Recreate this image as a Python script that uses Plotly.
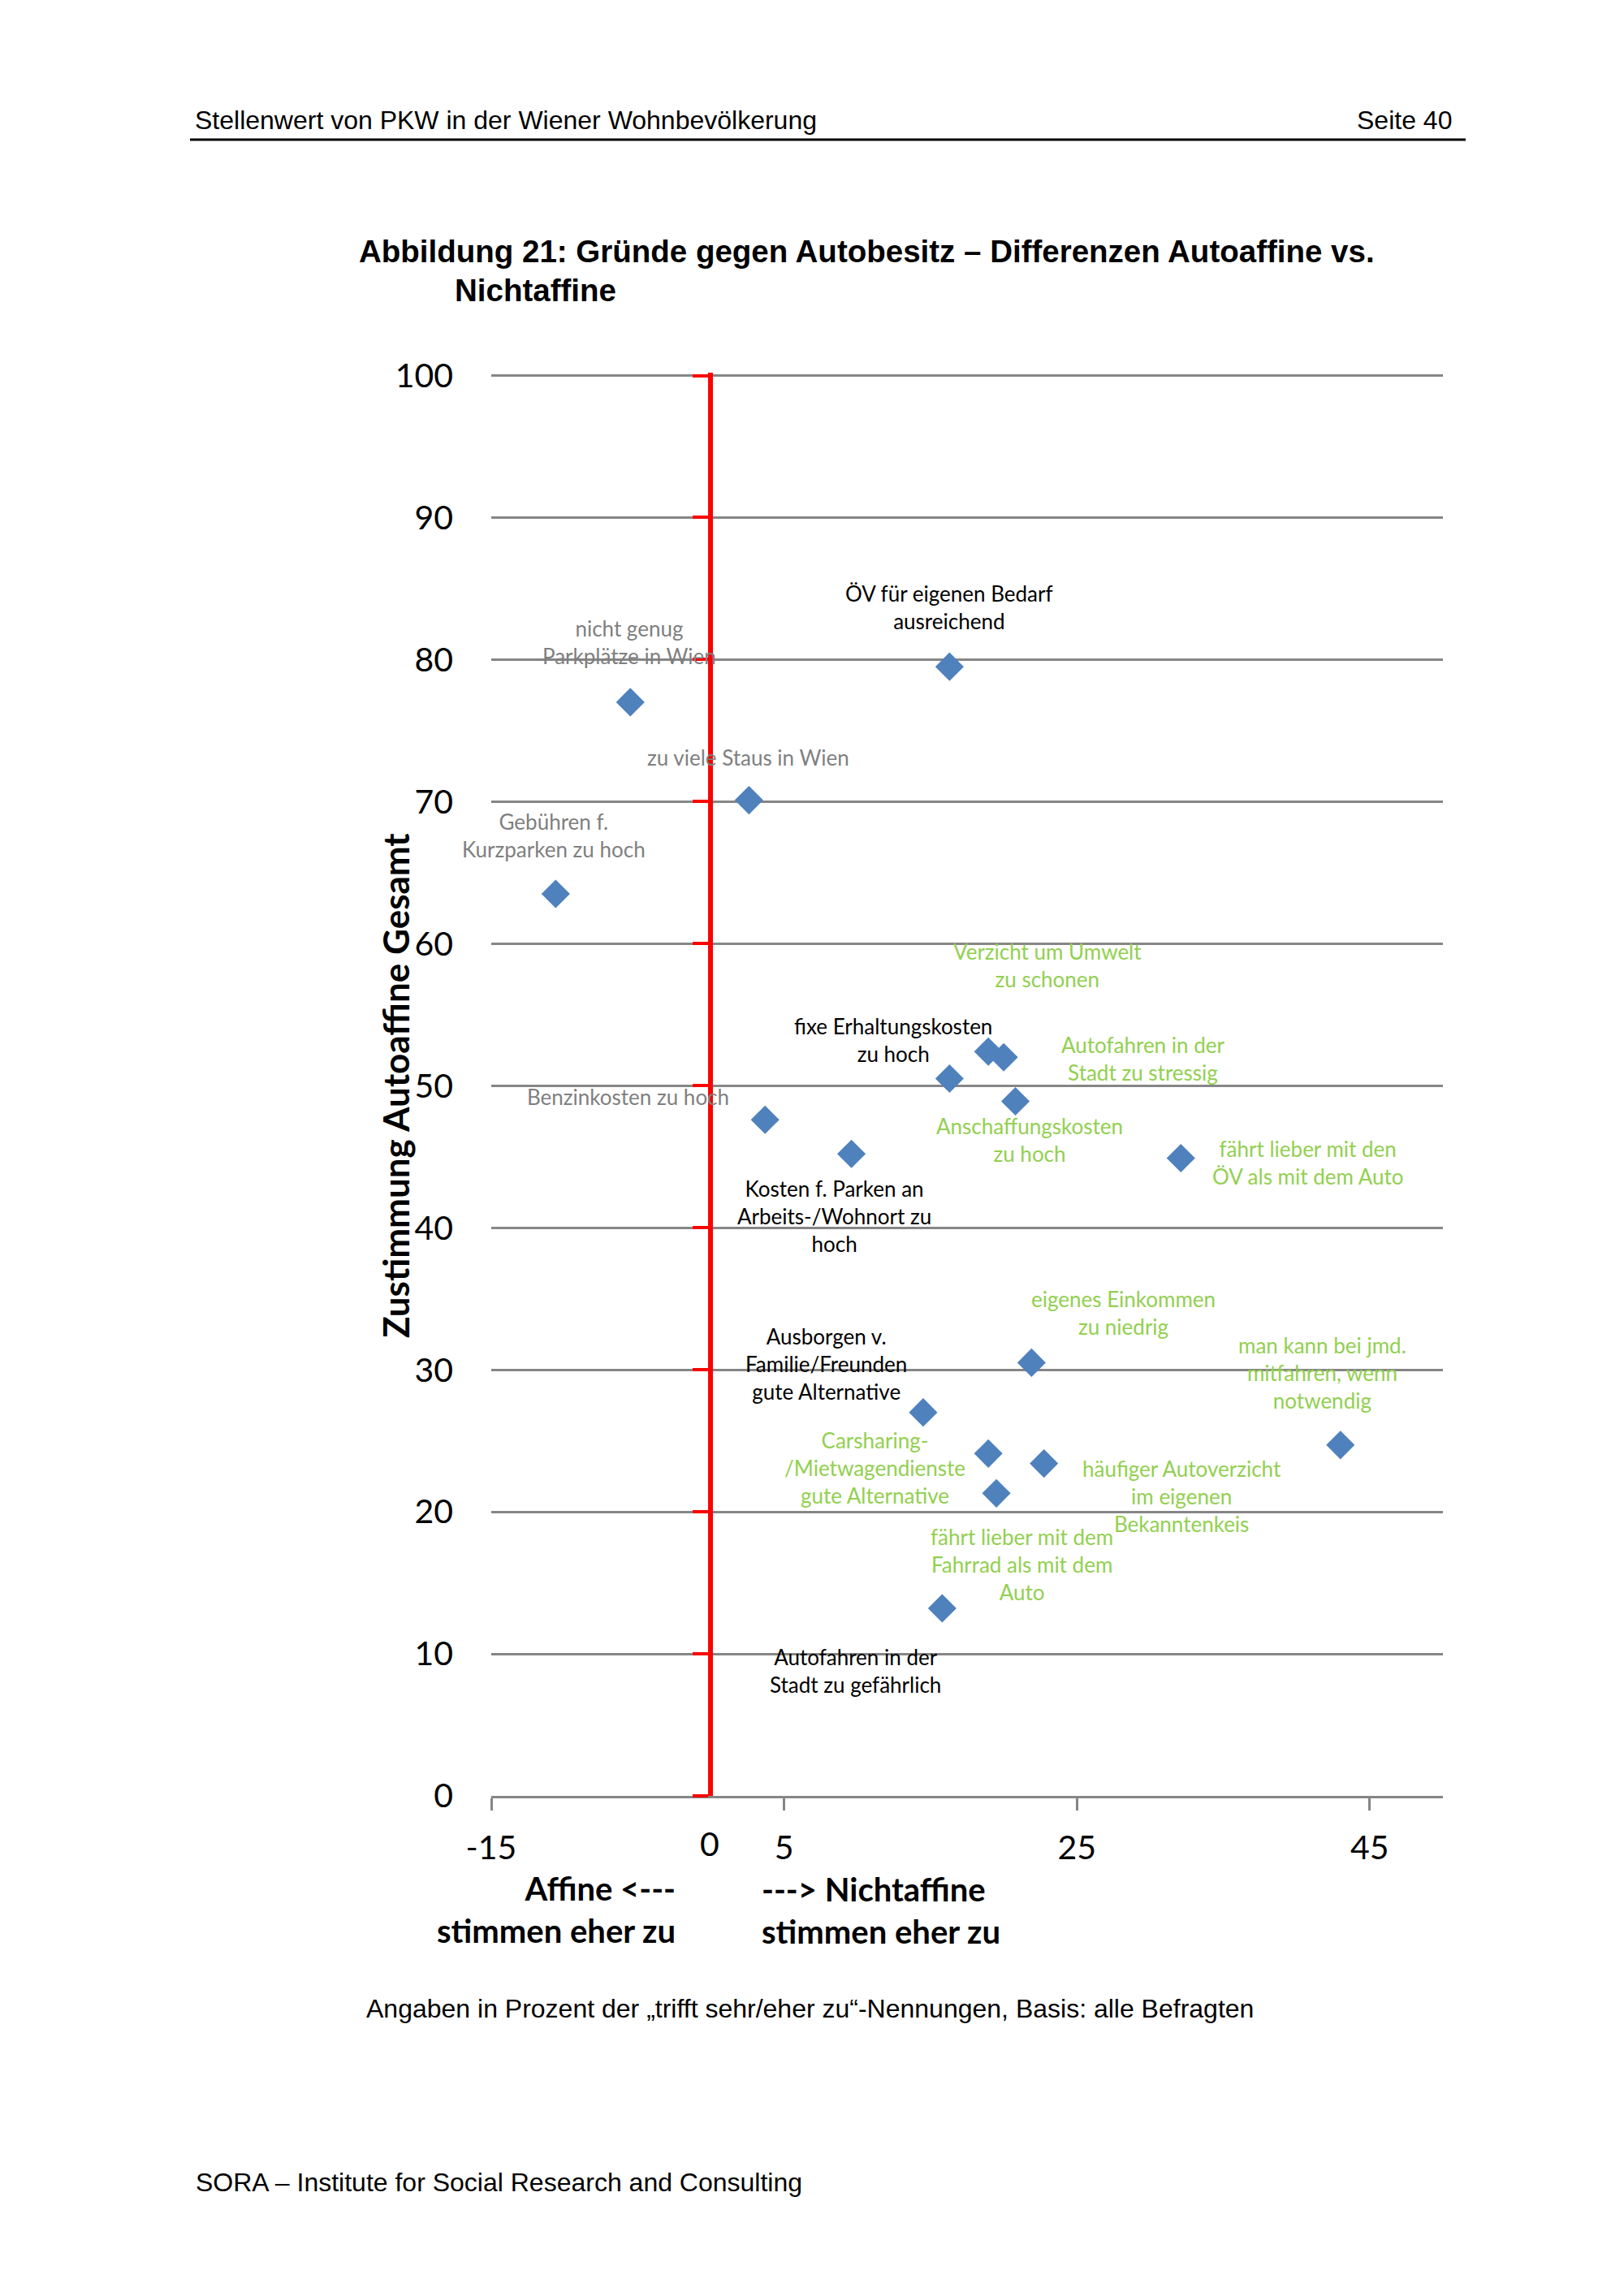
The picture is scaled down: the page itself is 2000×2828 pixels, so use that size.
import plotly.graph_objects as go

# Gründe gegen Autobesitz: Differenz Nichtaffine - Affine (x) vs. Zustimmung Autoaffine gesamt (y)
reasons = [
    "nicht genug\nParkplätze in Wien",
    "ÖV für eigenen Bedarf\nausreichend",
    "zu viele Staus in Wien",
    "Gebühren f.\nKurzparken zu hoch",
    "Verzicht um Umwelt\nzu schonen",
    "Autofahren in der\nStadt zu stressig",
    "fixe Erhaltungskosten\nzu hoch",
    "Anschaffungskosten\nzu hoch",
    "Benzinkosten zu hoch",
    "Kosten f. Parken an\nArbeits-/Wohnort zu\nhoch",
    "fährt lieber mit den\nÖV als mit dem Auto",
    "eigenes Einkommen\nzu niedrig",
    "Ausborgen v.\nFamilie/Freunden\ngute Alternative",
    "man kann bei jmd.\nmitfahren, wenn\nnotwendig",
    "Carsharing-\n/Mietwagendienste\ngute Alternative",
    "häufiger Autoverzicht\nim eigenen\nBekanntenkeis",
    "fährt lieber mit dem\nFahrrad als mit dem\nAuto",
    "Autofahren in der\nStadt zu gefährlich",
]
differenz = [-5.5, 16.3, 2.6, -10.6, 18.95, 20.0, 16.3, 20.8, 3.7, 9.6,
             32.1, 21.9, 14.5, 43.0, 18.95, 22.75, 19.5, 15.8]
zustimmung = [77.0, 79.5, 70.1, 63.5, 52.4, 52.0, 50.5, 48.9, 47.6, 45.2,
              44.9, 30.5, 27.0, 24.7, 24.1, 23.4, 21.3, 13.2]
gruppe = ["grau", "schwarz", "grau", "grau", "gruen", "gruen", "schwarz", "gruen", "grau", "schwarz",
          "gruen", "gruen", "schwarz", "gruen", "gruen", "gruen", "gruen", "schwarz"]

# where each data label sits (data units)
label_x = [-5.58, 16.28, 2.58, -10.73, 23.0, 29.48, 12.47, 21.77, -5.68, 8.41,
           40.76, 28.15, 7.87, 41.75, 11.23, 32.15, 21.22, 9.9]
label_y = [81.2, 83.7, 73.1, 67.6, 58.5, 51.9, 53.2, 46.2, 49.2, 40.8,
           44.6, 34.0, 30.4, 29.8, 23.1, 21.1, 16.3, 8.8]

x_ticks = [-15, 5, 25, 45]
x_ticktext = ["-15", "5", "25", "45"]
y_ticks = list(range(0, 101, 10))

label_colors = {"grau": "#7F7F7F", "schwarz": "#000000", "gruen": "#92D050"}

# page is drawn with the browser's 8px body margin, so work in page pixels minus that
OFF = 8
W, H = 2000 - 2 * OFF, 2828 - 2 * OFF
L, T = 605 - OFF, 459 - OFF
R = W - (1777 - OFF)
B = H - (2212 - OFF)
PW, PH = W - L - R, H - T - B
Y_TOP = 100.2  # small headroom so plotly keeps the gridline at 100


def px(x):
    return (x - OFF - L) / PW


def py(y):
    return (H - B - (y - OFF)) / PH


fig = go.Figure()
fig.add_trace(go.Scatter(
    x=differenz, y=zustimmung, mode="markers",
    marker=dict(symbol="diamond", size=27, color="#4F81BD"),
    text=[r.replace("\n", " ") for r in reasons], hoverinfo="text",
    showlegend=False,
))
# empty trace so the red axis at x=0 gets drawn
fig.add_trace(go.Scatter(x=[None], y=[None], yaxis="y2", showlegend=False, hoverinfo="skip"))

chart_font = "Lato, Calibri, sans-serif"
page_font = "Liberation Sans, Arial, sans-serif"

annotations = []
for txt, lx, ly, g in zip(reasons, label_x, label_y, gruppe):
    annotations.append(dict(
        x=lx, y=ly, xref="x", yref="y", text=txt.replace("\n", "<br>"),
        showarrow=False, xanchor="center", yanchor="middle", align="center",
        font=dict(family=chart_font, size=26, color=label_colors[g]),
    ))

annotations += [
    dict(x=px(874), y=py(2270), xref="paper", yref="paper", text="0", showarrow=False,
         xanchor="center", yanchor="middle", font=dict(family=chart_font, size=41, color="black")),
    dict(x=px(487), y=py(1337), xref="paper", yref="paper", textangle=-90,
         text="<b>Zustimmung Autoaffine Gesamt</b>", showarrow=False,
         xanchor="center", yanchor="middle",
         font=dict(family=chart_font, size=44, color="black")),
    dict(x=px(834), y=py(2352), xref="paper", yref="paper",
         text="<b>Affine <---</b><br><b>stimmen eher zu</b>", showarrow=False,
         xanchor="right", yanchor="middle", align="right",
         font=dict(family=chart_font, size=40, color="black")),
    dict(x=px(936), y=py(2353), xref="paper", yref="paper",
         text="<b>---> Nichtaffine</b><br><b>stimmen eher zu</b>", showarrow=False,
         xanchor="left", yanchor="middle", align="left",
         font=dict(family=chart_font, size=40, color="black")),
    dict(x=px(238), y=py(148), xref="paper", yref="paper",
         text="Stellenwert von PKW in der Wiener Wohnbevölkerung", showarrow=False,
         xanchor="left", yanchor="middle", font=dict(family=page_font, size=32, color="black")),
    dict(x=px(1790), y=py(148), xref="paper", yref="paper", text="Seite 40", showarrow=False,
         xanchor="right", yanchor="middle", font=dict(family=page_font, size=32, color="black")),
    dict(x=px(440), y=py(310), xref="paper", yref="paper",
         text="<b>Abbildung 21: Gründe gegen Autobesitz – Differenzen Autoaffine vs.</b>",
         showarrow=False, xanchor="left", yanchor="middle",
         font=dict(family=page_font, size=38.5, color="black")),
    dict(x=px(558), y=py(358), xref="paper", yref="paper", text="<b>Nichtaffine</b>",
         showarrow=False, xanchor="left", yanchor="middle",
         font=dict(family=page_font, size=38.5, color="black")),
    dict(x=px(449), y=py(2474), xref="paper", yref="paper",
         text="Angaben in Prozent der „trifft sehr/eher zu“-Nennungen, Basis: alle Befragten",
         showarrow=False, xanchor="left", yanchor="middle",
         font=dict(family=page_font, size=32, color="black")),
    dict(x=px(239), y=py(2688), xref="paper", yref="paper",
         text="SORA – Institute for Social Research and Consulting",
         showarrow=False, xanchor="left", yanchor="middle",
         font=dict(family=page_font, size=32, color="black")),
]

fig.update_layout(
    width=W, height=H,
    margin=dict(l=L, r=R, t=T, b=B),
    paper_bgcolor="white", plot_bgcolor="white",
    showlegend=False,
    annotations=annotations,
    shapes=[dict(type="line", xref="paper", yref="paper", x0=px(234), x1=px(1805),
                 y0=py(172), y1=py(172), line=dict(color="black", width=3))],
    xaxis=dict(
        range=[-15, 50], tickvals=x_ticks, ticktext=x_ticktext, showgrid=False, zeroline=False,
        showline=True, linecolor="#868686", linewidth=3,
        ticks="outside", ticklen=15, tickwidth=3, tickcolor="#868686",
        tickfont=dict(family=chart_font, size=41, color="black"),
        ticklabelstandoff=11,
    ),
    yaxis=dict(
        range=[0, Y_TOP], tickvals=y_ticks, showgrid=True, gridcolor="#868686", gridwidth=3,
        zeroline=False, showline=False, ticks="",
        tickfont=dict(family=chart_font, size=41, color="black"),
        ticklabelstandoff=46,
    ),
    yaxis2=dict(
        range=[0, Y_TOP], overlaying="y", anchor="free", position=15 / 65, side="left",
        tickvals=y_ticks, showticklabels=False, showgrid=False, zeroline=False,
        showline=True, linecolor="#FF0000", linewidth=6,
        ticks="outside", ticklen=19, tickwidth=4, tickcolor="#FF0000",
    ),
)

fig.write_html("out.html")
